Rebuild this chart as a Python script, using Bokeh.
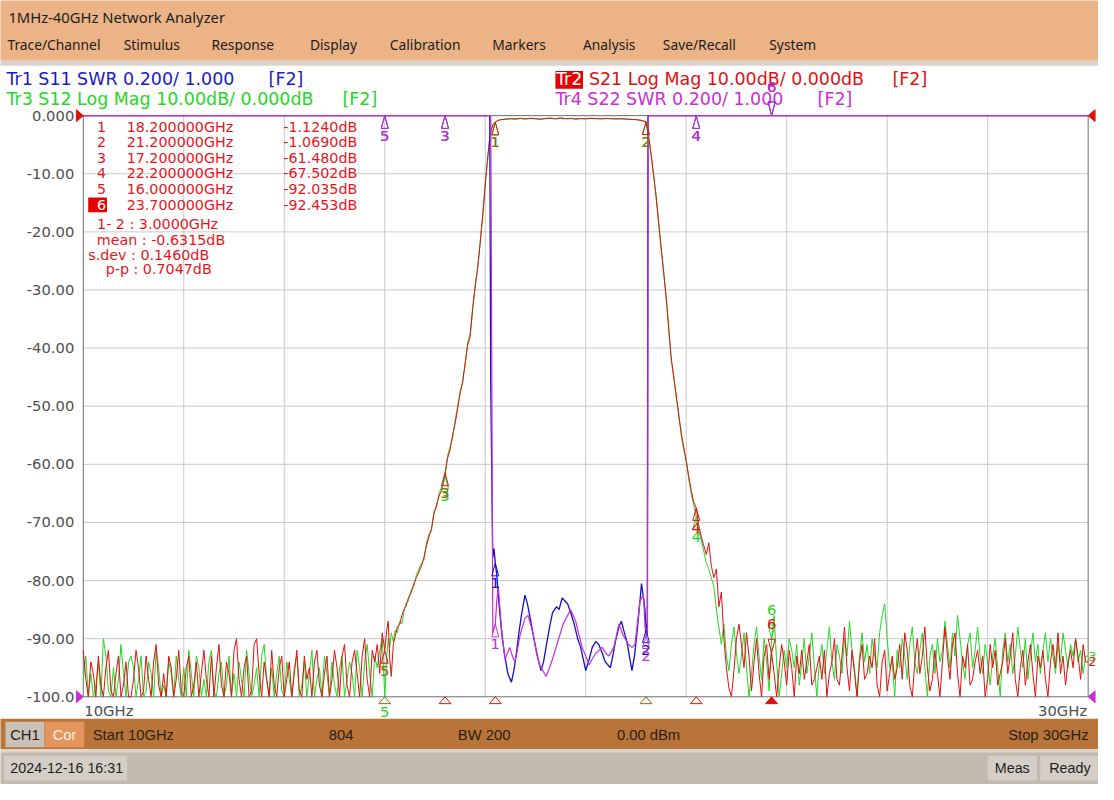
import numpy as np
from bokeh.plotting import figure
from bokeh.models import Range1d
from bokeh.core.properties import value
from bokeh.embed import file_html
from bokeh.resources import INLINE

# ---------------- data ----------------
F_START, F_STOP = 10.0, 30.0
DB_TOP, DB_BOTTOM = 0.0, -100.0
SWR_REF, SWR_PER_DIV, DB_PER_DIV = 1.0, 0.2, 10.0
NOISE_STEP = 0.05

LEFT_NOISE_START = 10.0
s21_noise_left = [
    -92, -97, -100, -94, -96, -100, -93, -98, -100, -95, -92, -99, -100, -96, -93, -100, -98, -94, -100, -100,
    -97, -92, -95, -100, -99, -93, -97, -100, -94, -91, -98, -100, -96, -100, -93, -95, -100, -97, -92, -99,
    -100, -95, -93, -100, -98, -94, -100, -96, -92, -97, -100, -93, -100, -95, -91, -98, -100, -94, -96, -100,
    -92, -90, -97, -100, -95, -93, -100, -99, -91, -90, -96, -100, -94, -97, -100, -92, -98, -100, -95, -93,
    -100, -97, -94, -100, -96, -92, -99, -100, -93, -97, -95, -100, -94, -92, -98, -100, -96, -93, -100, -97,
    -92, -95, -100, -93, -91, -98, -100, -94, -92, -96, -100, -93, -90, -97, -100, -92, -94, -91, -96, -89]
s12_noise_left = [
    -97, -93, -100, -96, -100, -98, -94, -100, -90, -93, -99, -100, -95, -100, -97, -91, -96, -100, -94, -93,
    -95, -100, -97, -93, -100, -99, -94, -96, -100, -92, -95, -100, -98, -100, -94, -96, -100, -93, -97, -100,
    -95, -100, -92, -96, -100, -93, -95, -100, -97, -100, -94, -92, -99, -100, -96, -94, -100, -98, -93, -100,
    -96, -100, -94, -97, -100, -92, -96, -100, -98, -95, -100, -93, -91, -97, -100, -95, -100, -96, -93, -99,
    -100, -94, -97, -100, -95, -93, -100, -98, -94, -100, -96, -92, -100, -97, -95, -100, -93, -96, -100, -94,
    -98, -100, -95, -93, -100, -97, -94, -96, -100, -92, -95, -100, -94, -91, -96, -100, -93, -95, -92, -90]

rise_freq = [16.00, 16.04, 16.07, 16.10, 16.13, 16.17, 16.21, 16.25, 16.30, 16.34, 16.38, 16.42, 16.47, 16.53,
             16.58, 16.63, 16.68, 16.73, 16.78, 16.83, 16.88, 16.93, 16.98, 17.03, 17.08, 17.13, 17.18, 17.20,
             17.25, 17.30, 17.35, 17.40, 17.45, 17.50, 17.55, 17.60, 17.65, 17.70, 17.75, 17.80, 17.85, 17.90,
             17.95, 18.00, 18.05, 18.10, 18.15]
s21_rise_db = [-92.0, -88.5, -87.0, -93.5, -96.5, -91.0, -89.5, -88.0, -87.5, -86.0, -85.0, -84.5, -83.0, -82.0,
               -80.5, -79.5, -78.5, -77.5, -76.0, -74.0, -72.5, -71.0, -68.5, -67.0, -65.5, -64.5, -62.5, -61.5,
               -59.0, -57.5, -55.0, -53.0, -50.5, -47.5, -46.0, -42.5, -39.5, -38.0, -33.0, -29.5, -26.0, -22.0,
               -17.0, -12.0, -7.0, -3.0, -1.6]
s12_rise_db = [-100.0, -93.0, -90.0, -91.5, -89.0, -90.5, -88.5, -89.0, -87.0, -87.5, -85.5, -84.0, -83.5, -81.5,
               -81.0, -79.0, -78.0, -77.0, -76.5, -73.5, -72.0, -71.5, -68.0, -67.5, -65.0, -64.0, -63.0, -62.0,
               -58.5, -57.0, -55.5, -52.5, -50.0, -48.0, -45.5, -43.0, -39.0, -37.5, -33.5, -29.0, -26.5, -21.5,
               -17.5, -11.5, -7.5, -3.2, -1.5]

pass_freq = [18.20, 18.25, 18.30, 18.40, 18.50, 18.60, 18.70, 18.80, 18.90, 19.00, 19.10, 19.20, 19.30, 19.40,
             19.50, 19.60, 19.70, 19.80, 19.90, 20.00, 20.10, 20.20, 20.30, 20.40, 20.50, 20.60, 20.70, 20.80,
             20.90, 21.00, 21.10]
s21_pass_db = [-1.124, -0.85, -0.72, -0.62, -0.55, -0.60, -0.50, -0.58, -0.48, -0.55, -0.62, -0.52, -0.45, -0.58,
               -0.42, -0.55, -0.50, -0.60, -0.52, -0.55, -0.48, -0.52, -0.56, -0.50, -0.54, -0.58, -0.55, -0.60,
               -0.66, -0.70, -0.82]
s12_pass_db = [-1.10, -0.80, -0.68, -0.60, -0.50, -0.55, -0.45, -0.52, -0.44, -0.50, -0.57, -0.47, -0.40, -0.52,
               -0.38, -0.50, -0.45, -0.55, -0.48, -0.50, -0.44, -0.48, -0.52, -0.46, -0.50, -0.53, -0.50, -0.56,
               -0.62, -0.66, -0.78]

fall_freq = [21.20, 21.25, 21.30, 21.35, 21.40, 21.45, 21.50, 21.55, 21.60, 21.65, 21.70, 21.75, 21.80, 21.85,
             21.90, 21.95, 22.00, 22.05, 22.10, 22.15, 22.20, 22.25, 22.30, 22.35, 22.40, 22.45, 22.50, 22.55,
             22.60, 22.65, 22.70, 22.75, 22.80, 22.85, 22.90, 22.95, 23.00, 23.05]
s21_fall_db = [-1.069, -3.5, -6.5, -10.0, -14.0, -18.5, -22.5, -27.0, -31.0, -36.5, -41.5, -45.0, -48.0, -51.5,
               -54.5, -57.0, -59.5, -62.0, -64.5, -66.5, -67.502, -70.5, -72.5, -74.0, -75.5, -73.5, -77.5, -79.5,
               -78.0, -84.5, -82.0, -90.0, -95.0, -98.5, -100.0, -95.5, -90.0, -87.5]
s12_fall_db = [-1.05, -3.3, -6.8, -10.5, -13.5, -18.0, -23.0, -26.5, -31.5, -36.0, -42.0, -44.5, -48.5, -51.0,
               -55.0, -57.5, -59.0, -62.5, -65.0, -67.0, -69.0, -71.5, -73.0, -75.0, -77.0, -78.0, -79.5, -81.0,
               -85.0, -88.0, -91.0, -87.5, -93.0, -95.5, -91.0, -88.0, -92.5, -96.0]

RIGHT_NOISE_START = 23.10
s21_noise_right = [
    -91, -95, -89, -93, -99, -94, -90, -96, -100, -93, -91, -97, -92.5, -96, -100, -95, -91, -94, -98, -92,
    -95, -100, -93, -96, -92, -97, -94, -91, -98, -97, -95, -93, -97, -92, -100, -96, -94, -90, -97, -98,
    -93, -88, -95, -99, -92, -96, -100, -94, -91, -97, -96, -93, -95, -90, -98, -100, -94, -92, -99, -96,
    -93, -97, -95, -91, -97, -89, -92, -98, -100, -94, -90, -96, -93, -88, -95, -99, -97, -92, -96, -100,
    -94, -88, -93, -97, -91, -89, -96, -100, -93, -95, -91, -98, -97, -94, -92, -96, -93, -100, -97, -91,
    -95, -92, -98, -96, -94, -90, -96, -93, -89, -97, -100, -95, -92, -98, -94, -91, -96, -100, -93, -95,
    -92, -97, -100, -94, -91, -95, -89, -96, -93, -98, -94, -92, -95, -90, -93, -97, -91, -94, -94, -95]
s12_noise_right = [
    -93, -89, -95, -100, -96, -91, -88, -93, -97, -90, -94, -99, -90, -86, -94, -100, -96, -92, -95, -90,
    -92, -95, -91, -98, -94, -90, -96, -93, -89, -95, -100, -94, -91, -96, -92, -88, -94, -97, -91, -93,
    -96, -90, -93, -87, -92, -95, -100, -93, -89, -94, -91, -96, -90, -93, -95, -89, -86, -84, -90, -95,
    -94, -100, -92, -95, -90, -93, -97, -91, -88, -94, -96, -92, -89, -95, -100, -93, -91, -96, -90, -94,
    -92, -87, -91, -95, -89, -93, -86, -90, -94, -97, -91, -89, -95, -92, -88, -93, -96, -91, -94, -98,
    -93, -90, -95, -100, -92, -89, -94, -91, -96, -93, -88, -92, -95, -90, -97, -93, -89, -94, -91, -96,
    -92, -89, -94, -90, -93, -96, -91, -94, -89, -92, -95, -91, -93, -90, -94, -92, -96, -93, -93, -94]

# SWR traces (values above the top of the display are over range)
s11_freq = [10.00, 18.09, 18.11, 18.15, 18.175, 18.20, 18.23, 18.26, 18.295, 18.34, 18.39, 18.45, 18.52, 18.57,
            18.62, 18.67, 18.72, 18.79, 18.84, 18.885, 18.98, 19.04, 19.11, 19.16, 19.21, 19.28, 19.34, 19.42,
            19.47, 19.53, 19.64, 19.70, 19.77, 19.84, 19.90, 20.00, 20.07, 20.13, 20.20, 20.26, 20.33, 20.39,
            20.49, 20.55, 20.59, 20.66, 20.71, 20.77, 20.82, 20.88, 20.92, 20.97, 21.02, 21.08, 21.11, 21.15,
            21.18, 21.20, 21.225, 21.24, 30.00]
s11_swr = [5.0, 5.0, 2.07, 1.48, 1.51, 1.46, 1.42, 1.35, 1.28, 1.20, 1.14, 1.08, 1.05, 1.09,
           1.15, 1.22, 1.28, 1.35, 1.32, 1.28, 1.19, 1.14, 1.09, 1.12, 1.17, 1.24, 1.29, 1.31,
           1.30, 1.34, 1.32, 1.29, 1.25, 1.20, 1.17, 1.09, 1.13, 1.17, 1.19, 1.18, 1.15, 1.12,
           1.10, 1.15, 1.19, 1.24, 1.26, 1.22, 1.19, 1.13, 1.09, 1.14, 1.22, 1.33, 1.39, 1.34,
           1.30, 1.23, 1.25, 5.0, 5.0]
s22_freq = [10.00, 18.11, 18.12, 18.15, 18.18, 18.20, 18.23, 18.26, 18.32, 18.39, 18.44, 18.49, 18.54, 18.59,
            18.64, 18.69, 18.79, 18.85, 18.95, 19.02, 19.08, 19.21, 19.28, 19.34, 19.41, 19.48, 19.55, 19.61,
            19.70, 19.80, 19.87, 19.93, 20.07, 20.13, 20.20, 20.33, 20.40, 20.46, 20.56, 20.66, 20.75, 20.85,
            20.92, 20.98, 21.04, 21.08, 21.15, 21.18, 21.20, 21.23, 21.245, 30.00]
s22_swr = [5.0, 5.0, 2.6, 1.22, 1.24, 1.25, 1.33, 1.38, 1.24, 1.13, 1.15, 1.17, 1.14, 1.12,
           1.16, 1.21, 1.27, 1.28, 1.22, 1.15, 1.11, 1.07, 1.10, 1.13, 1.17, 1.21, 1.25, 1.27,
           1.30, 1.26, 1.21, 1.17, 1.11, 1.13, 1.15, 1.17, 1.15, 1.14, 1.17, 1.25, 1.21, 1.18,
           1.17, 1.18, 1.27, 1.33, 1.35, 1.24, 1.21, 1.22, 5.0, 5.0]

marker_ids = ["1", "2", "3", "4", "5", "6"]
marker_freq = [18.2, 21.2, 17.2, 22.2, 16.0, 23.7]
marker_s21_db = [-1.124, -1.069, -61.480, -67.502, -92.035, -92.453]
marker_freq_text = ["18.200000GHz", "21.200000GHz", "17.200000GHz", "22.200000GHz", "16.000000GHz", "23.700000GHz"]
marker_val_text = ["-1.1240dB", "-1.0690dB", "-61.480dB", "-67.502dB", "-92.035dB", "-92.453dB"]
ACTIVE_MARKER = 5
stats_text = ["1- 2 : 3.0000GHz", "mean : -0.6315dB", "s.dev : 0.1460dB", "p-p : 0.7047dB"]

y_tick_db = [0, -10, -20, -30, -40, -50, -60, -70, -80, -90, -100]
y_tick_labels = ["0.000", "-10.00", "-20.00", "-30.00", "-40.00", "-50.00", "-60.00", "-70.00", "-80.00",
                 "-90.00", "-100.0"]
x_grid_ghz = [12, 14, 16, 18, 20, 22, 24, 26, 28]

menu_items = ["Trace/Channel", "Stimulus", "Response", "Display", "Calibration", "Markers", "Analysis",
              "Save/Recall", "System"]

# ---------------- layout / style ----------------
W, H = 1098, 784                 # canvas in screen pixels
RW, RH = 1114.0, 800.0           # layout units (screen-like units of the analyzer window)
PLOT_L, PLOT_R, PLOT_T, PLOT_B = 84.0, 1103.5, 117.5, 710.5
GPX = (F_STOP - F_START) / (PLOT_R - PLOT_L)      # GHz per layout unit
DPX = (DB_TOP - DB_BOTTOM) / (PLOT_B - PLOT_T)    # dB per layout unit
FS = W / RW                                        # font scale

BLUE, BLUE_T = "#1212C4", "#1A1AC8"
RED = "#E01010"
GREEN = "#26D626"
MAGENTA = "#C92FD6"
OLIVE = "#8A6C10"
GRID = "#C9C9C9"
FRAME = "#6E6E6E"
TICK = "#505050"
PEACH = "#EBB386"
STATUS = "#B97539"
BOTTOM = "#C2BAAE"
BOX = "#D4CEC6"
DARK = "#2A1E14"

DV = value("DejaVu Sans")
NS = value("Noto Sans")
LS = value("Liberation Sans")

def fpx(size):
    return f"{size * FS:.2f}px"

# ---------------- build traces ----------------
def noise(start, vals, stop):
    f = start + NOISE_STEP * np.arange(len(vals))
    v = np.asarray(vals, float)
    keep = f <= stop + 1e-9
    return f[keep], v[keep]

def pair(f, v):
    n = min(len(f), len(v))
    return np.asarray(f[:n], float), np.asarray(v[:n], float)

lf21, lv21 = noise(LEFT_NOISE_START, s21_noise_left, rise_freq[0] - 0.01)
lf12, lv12 = noise(LEFT_NOISE_START, s12_noise_left, rise_freq[0] - 0.01)
rf21, rv21 = noise(RIGHT_NOISE_START, s21_noise_right, F_STOP)
rf12, rv12 = noise(RIGHT_NOISE_START, s12_noise_right, F_STOP)

parts21 = [(lf21, lv21), pair(rise_freq, s21_rise_db), pair(pass_freq, s21_pass_db), pair(fall_freq, s21_fall_db), (rf21, rv21)]
parts12 = [(lf12, lv12), pair(rise_freq, s12_rise_db), pair(pass_freq, s12_pass_db), pair(fall_freq, s12_fall_db), (rf12, rv12)]
s21_f = np.concatenate([a for a, _ in parts21]); s21_v = np.concatenate([b for _, b in parts21])
s12_f = np.concatenate([a for a, _ in parts12]); s12_v = np.concatenate([b for _, b in parts12])
s21_v = np.clip(s21_v, DB_BOTTOM, DB_TOP)
s12_v = np.clip(s12_v, DB_BOTTOM, DB_TOP)

def swr_to_display(swr):
    d = DB_BOTTOM + (np.asarray(swr, float) - SWR_REF) / SWR_PER_DIV * DB_PER_DIV
    return np.clip(d, DB_BOTTOM, DB_TOP)

s11_f, s11_raw = pair(s11_freq, s11_swr)
s22_f, s22_raw = pair(s22_freq, s22_swr)
s11_v = swr_to_display(s11_raw)
s22_v = swr_to_display(s22_raw)

# ---------------- figure ----------------
p = figure(width=W, height=H, x_range=Range1d(0, RW), y_range=Range1d(RH, 0),
           x_axis_type=None, y_axis_type=None, toolbar_location=None,
           output_backend="svg", min_border=0, outline_line_color=None)
p.background_fill_color = "white"
p.border_fill_color = "white"
p.extra_x_ranges = {"f": Range1d(F_START - PLOT_L * GPX, F_STOP + (RW - PLOT_R) * GPX)}
p.extra_y_ranges = {"db": Range1d(DB_BOTTOM - (RH - PLOT_B) * DPX, DB_TOP + PLOT_T * DPX)}
D = dict(x_range_name="f", y_range_name="db")

def box(l, r, t, b, color):
    p.quad(left=[l], right=[r], top=[t], bottom=[b], fill_color=color, line_color=None)

def txt(x, y, s, color, size, font=DV, align="left", **kw):
    p.text(x=[x], y=[y], text=[s], text_color=color, text_font=font, text_font_size=fpx(size),
           text_align=align, text_baseline="middle", **kw)

# window chrome
box(-10, RW + 10, -10, 61.5, PEACH)
box(-10, RW + 10, 61.5, 66.5, "#D8D3CD")
box(-10, RW + 10, 733, 764, STATUS)
box(-10, RW + 10, 764, 767, "#DCD6CF")
box(-10, RW + 10, 767, RH + 10, BOTTOM)
box(5, 44.5, 736, 762, "#CAC1B7")
box(45, 85, 736, 762, "#E3955C")
box(3.5, 128.5, 771, 796, BOX)
box(1001.5, 1051.5, 771, 796, BOX)
box(1055, RW + 10, 771, 796, BOX)

txt(8, 16.5, "1MHz-40GHz Network Analyzer", "#1C1C1C", 15.0, NS)
menu_x = [7, 125, 214, 314, 395, 499, 591, 672, 780]
for mx, m in zip(menu_x, menu_items):
    txt(mx, 45, m, "#1C1C1C", 14.0, NS)

# trace headers
txt(6, 80.5, "Tr1 S11 SWR 0.200/ 1.000", BLUE_T, 17.7)
txt(272, 80.5, "[F2]", BLUE_T, 17.7)
txt(6, 100, "Tr3 S12 Log Mag 10.00dB/ 0.000dB", GREEN, 17.7)
txt(347, 100, "[F2]", GREEN, 17.7)
box(563, 591, 72, 90, "#E80000")
txt(563.5, 80.5, "Tr2", "white", 17.7)
txt(597, 80.5, "S21 Log Mag 10.00dB/ 0.000dB", RED, 17.7)
txt(905, 80.5, "[F2]", RED, 17.7)
txt(563, 100, "Tr4 S22 SWR 0.200/ 1.000", MAGENTA, 17.7)
txt(829, 100, "[F2]", MAGENTA, 17.7)

# grid and frame
p.segment(x0=x_grid_ghz, y0=[DB_BOTTOM] * len(x_grid_ghz), x1=x_grid_ghz, y1=[DB_TOP] * len(x_grid_ghz),
          line_color=GRID, line_width=1, **D)
inner = y_tick_db[1:-1]
p.segment(x0=[F_START] * len(inner), y0=inner, x1=[F_STOP] * len(inner), y1=inner,
          line_color=GRID, line_width=1, **D)
p.segment(x0=[F_START, F_STOP, F_START, F_START], y0=[DB_BOTTOM, DB_BOTTOM, DB_TOP, DB_BOTTOM],
          x1=[F_START, F_STOP, F_STOP, F_STOP], y1=[DB_TOP, DB_TOP, DB_TOP, DB_BOTTOM],
          line_color=FRAME, line_width=1, **D)

# tick labels
p.text(x=[F_START] * len(y_tick_db), y=y_tick_db, text=y_tick_labels, x_offset=-9, text_align="right",
       text_baseline="middle", text_color=TICK, text_font=DV, text_font_size=fpx(15), **D)
p.text(x=[F_START], y=[DB_BOTTOM], text=["10GHz"], x_offset=1, y_offset=14, text_align="left",
       text_baseline="middle", text_color=TICK, text_font=DV, text_font_size=fpx(15), **D)
p.text(x=[F_STOP], y=[DB_BOTTOM], text=["30GHz"], x_offset=-1, y_offset=14, text_align="right",
       text_baseline="middle", text_color=TICK, text_font=DV, text_font_size=fpx(15), **D)

# traces
p.line(s12_f, s12_v, line_color=GREEN, line_width=1, **D)
p.line(s21_f, s21_v, line_color=RED, line_width=1, **D)
p.line(s11_f, s11_v, line_color=BLUE, line_width=1.3, **D)
p.line(s22_f, s22_v, line_color=MAGENTA, line_width=1.2, **D)

# ---------------- markers ----------------
def tri(fs, vs, w, h, up=True):
    xs, ys = [], []
    for f, v in zip(fs, vs):
        base = v - h * DPX if up else v + h * DPX
        xs.append([f, f - w / 2 * GPX, f + w / 2 * GPX])
        ys.append([v, base, base])
    return xs, ys

def draw_markers(vals, color, label_colors, skip_bottom=False):
    vals = list(vals)
    idx_up = [i for i in range(len(vals)) if i != ACTIVE_MARKER and not (skip_bottom and vals[i] <= DB_BOTTOM)]
    xs, ys = tri([marker_freq[i] for i in idx_up], [vals[i] for i in idx_up], 7, 13, True)
    p.patches(xs, ys, fill_alpha=0, line_color=color, line_width=1, **D)
    xs, ys = tri([marker_freq[ACTIVE_MARKER]], [vals[ACTIVE_MARKER]], 7, 14, False)
    p.patches(xs, ys, fill_alpha=0, line_color=color, line_width=1, **D)
    for i in range(len(vals)):
        if i == ACTIVE_MARKER:
            off = -29
        elif skip_bottom and vals[i] <= DB_BOTTOM:
            off = 15
        else:
            off = 20
        p.text(x=[marker_freq[i]], y=[vals[i]], text=[marker_ids[i]], y_offset=off, text_align="center",
               text_baseline="middle", text_color=label_colors[i], text_font=DV, text_font_size=fpx(15), **D)

g_vals = np.clip(np.interp(marker_freq, s12_f, s12_v), DB_BOTTOM, DB_TOP)
b_vals = np.interp(marker_freq, s11_f, s11_v)
m_vals = np.interp(marker_freq, s22_f, s22_v)

draw_markers(g_vals, GREEN, [GREEN] * 6, skip_bottom=True)
draw_markers(marker_s21_db, RED, [OLIVE, OLIVE, OLIVE, RED, OLIVE, RED])
draw_markers(b_vals, BLUE, [BLUE] * 6)
draw_markers(m_vals, MAGENTA, [MAGENTA] * 6)

# marker position indicators along the bottom edge (active trace)
ind_colors = [RED, OLIVE, RED, RED, OLIVE, RED]
xs, ys = tri(marker_freq, [DB_BOTTOM] * 6, 12, 7, True)
keep = [i for i in range(6) if i != ACTIVE_MARKER]
p.patches([xs[i] for i in keep], [ys[i] for i in keep],
          fill_alpha=0, line_color=[ind_colors[i] for i in keep], line_width=1, **D)
p.patches([xs[ACTIVE_MARKER]], [ys[ACTIVE_MARKER]], fill_color=RED, line_color=RED, **D)

# reference level indicators
def side_tri(f, v, direction, color):
    dx = 7 * GPX * direction
    p.patch([f, f - dx, f - dx], [v, v + 6 * DPX, v - 6 * DPX], fill_color=color, line_color=color, **D)

side_tri(F_START, DB_TOP, 1, RED)
side_tri(F_START, DB_BOTTOM, 1, MAGENTA)
side_tri(F_STOP, DB_TOP, -1, RED)
side_tri(F_STOP, DB_BOTTOM, -1, MAGENTA)
p.text(x=[F_STOP, F_STOP], y=[s12_v[-1], s21_v[-1]], text=["3", "2"], x_offset=0, text_align="left",
       text_baseline="middle", text_color=[GREEN, RED], text_font=DV, text_font_size=fpx(13), **D)

# ---------------- marker table ----------------
row_y = [129, 144.5, 160.5, 176.5, 192.5, 208.5]
TABLE = "#E8141C"
box(89, 108, 201, 216, "#E80000")
for i in range(6):
    txt(98, row_y[i], marker_ids[i], "white" if i == ACTIVE_MARKER else TABLE, 14.5)
    txt(128, row_y[i], marker_freq_text[i], TABLE, 14.5)
    txt(362, row_y[i], marker_val_text[i], TABLE, 14.5, align="right")
stat_pos = [(98, 228.3), (97.7, 244.3), (89, 260), (106.7, 274)]
for (sx, sy), s in zip(stat_pos, stats_text):
    txt(sx, sy, s, TABLE, 14.5)

# ---------------- status bars ----------------
txt(24.8, 749, "CH1", "#1E1E1E", 15, LS, align="center")
txt(65, 749, "Cor", "#FFF1E4", 15, LS, align="center")
txt(93.6, 749, "Start 10GHz", DARK, 15, LS)
txt(333, 749, "804", DARK, 15, LS)
txt(464, 749, "BW 200", DARK, 15, LS)
txt(625.4, 749, "0.00 dBm", DARK, 15, LS)
txt(1104, 749, "Stop 30GHz", DARK, 15, LS, align="right")
txt(10, 783.5, "2024-12-16 16:31", "#1E1E1E", 14.5, LS)
txt(1026.5, 783.5, "Meas", "#1E1E1E", 14.5, LS, align="center")
txt(1085, 783.5, "Ready", "#1E1E1E", 14.5, LS, align="center")

open("out.html", "w").write(file_html(p, INLINE))
